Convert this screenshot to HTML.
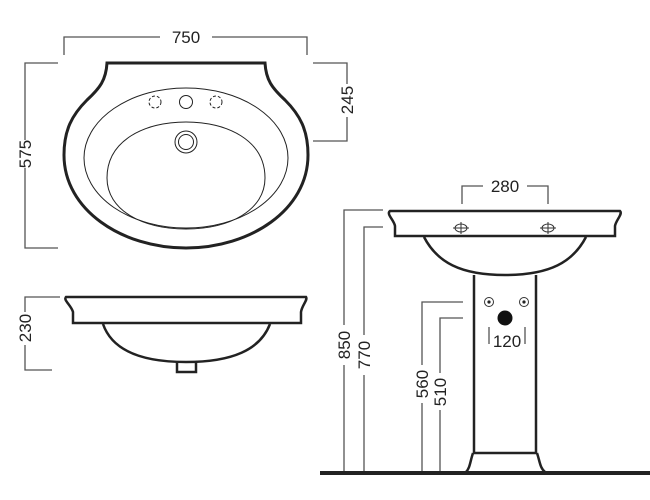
<!DOCTYPE html>
<html><head><style>body{margin:0;background:#fff}svg{display:block}text{font-family:"Liberation Sans",sans-serif;font-size:17px;fill:#222}</style></head>
<body>
<svg width="650" height="500" viewBox="0 0 650 500">
<g fill="none" stroke="#555" stroke-width="1.3">
<!-- 750 -->
<path d="M64 55V37H160M212 37H307V55"/>
<!-- 575 -->
<path d="M58 63H25V140M25 168V248H58"/>
<!-- 245 -->
<path d="M313 63H347V84M347 117V141H313"/>
<!-- 230 -->
<path d="M60 297H25V312M25 345V370H52"/>
<!-- 280 -->
<path d="M462 204V186H483M527 186H548V204"/>
<!-- 120 -->
<path d="M489 327V344M525 327V344"/>
<!-- 850/770 -->
<path d="M383 210H344V325M344 365V472"/>
<path d="M383 227H364V335M364 375V472"/>
<!-- 560/510 -->
<path d="M463 302H422V365M422 403V472"/>
<path d="M463 318H440V373M440 410V472"/>
</g>
<g fill="#222">
<text x="186" y="43" text-anchor="middle">750</text>
<text transform="translate(31 154) rotate(-90)" text-anchor="middle">575</text>
<text transform="translate(353 100) rotate(-90)" text-anchor="middle">245</text>
<text transform="translate(31 328) rotate(-90)" text-anchor="middle">230</text>
<text x="505" y="192" text-anchor="middle">280</text>
<text x="507" y="347" text-anchor="middle">120</text>
<text transform="translate(350 345) rotate(-90)" text-anchor="middle">850</text>
<text transform="translate(370 355) rotate(-90)" text-anchor="middle">770</text>
<text transform="translate(428 384) rotate(-90)" text-anchor="middle">560</text>
<text transform="translate(446 392) rotate(-90)" text-anchor="middle">510</text>
</g>
<!-- top view -->
<g fill="none" stroke="#222">
<path stroke-width="3" d="M107 63H265C266 80 272 88 285 100C300 115 308 130 308 155C308 210 250 248 186 248C122 248 64 210 64 155C64 130 72 115 87 100C100 88 106 80 107 63Z"/>
<ellipse cx="186" cy="158" rx="102" ry="70" stroke-width="1"/>
<path stroke-width="1" d="M107 178C107 140 145 122 186 122C227 122 265 140 265 178C265 210 230 229 186 229C142 229 107 210 107 178Z"/>
<circle cx="155" cy="102" r="6" stroke-width="1" stroke-dasharray="3 2"/>
<circle cx="216" cy="102" r="6" stroke-width="1" stroke-dasharray="3 2"/>
<circle cx="186" cy="102" r="6.5" stroke-width="1"/>
<circle cx="186" cy="142" r="11" stroke-width="1"/>
<circle cx="186" cy="142" r="7.5" stroke-width="1"/>
</g>
<!-- side view -->
<g fill="none" stroke="#222" stroke-width="2.5">
<path d="M66 297H306C308 300 302 305 301 312V323H73V312C71 305 63 300 66 297Z"/>
<path d="M103 324C112 350 140 362 186 362C232 362 260 350 270 324"/>
<path d="M177 362V372H196V362"/>
</g>
<!-- front view -->
<g fill="none" stroke="#222" stroke-width="2.5">
<path d="M390 211H620C623 214 616 220 615 226V236H395V226C394 220 386 214 390 211Z"/>
<path d="M424 237C437 262 460 275 505 275C550 275 573 262 586 237"/>
<path d="M474 275V453M536 275V453M473 453H537"/>
<path d="M473 453C470 462 470 468 466 472M537 453C540 462 540 468 545 472"/>
</g>
<path d="M320 473H650" stroke="#222" stroke-width="4"/>
<g fill="none" stroke="#333" stroke-width="1">
<ellipse cx="461" cy="228" rx="6" ry="4"/><path d="M453 228H469M461 222V234"/>
<ellipse cx="548" cy="228" rx="6" ry="4"/><path d="M540 228H556M548 222V234"/>
<circle cx="489" cy="302" r="4.5"/><circle cx="524" cy="302" r="4.5"/>
</g>
<circle cx="489" cy="302" r="1.6" fill="#222"/><circle cx="524" cy="302" r="1.6" fill="#222"/>
<circle cx="505" cy="318" r="7.5" fill="#111"/>
</svg>
</body></html>
